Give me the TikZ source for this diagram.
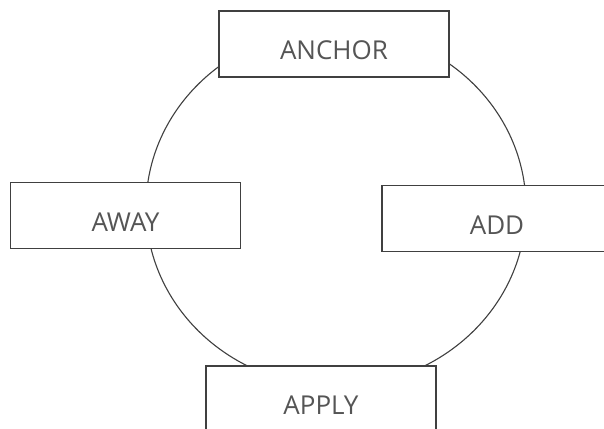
\documentclass[tikz,border=0pt]{standalone}
\usepackage{fontspec}
\setmainfont{Open Sans}
\definecolor{ink}{HTML}{404040}
\definecolor{label}{HTML}{555555}
\begin{document}
\begin{tikzpicture}[x=1pt, y=-1pt,
  stage/.style={draw=ink, line width=1.1pt, fill=white, rectangle, minimum width=230pt, minimum height=66pt, inner sep=0pt, text height=31pt, text depth=0pt, text=label, font=\fontsize{26}{30}\selectfont}]
\clip (0,0) rectangle (604,428);
\fill[white] (0,0) rectangle (604,428);
% cycle drawn behind the boxes
\draw[ink, line width=1.1pt] (336,207.5) ellipse [x radius=190, y radius=179];
\node[stage] (anchor) at (334, 44) {ANCHOR};
\node[stage] (away) at (125.5, 215.5) {AWAY};
\node[stage] (add) at (497, 218.5) {ADD};
\node[stage] (apply) at (321, 399) {APPLY};
\end{tikzpicture}
\end{document}
